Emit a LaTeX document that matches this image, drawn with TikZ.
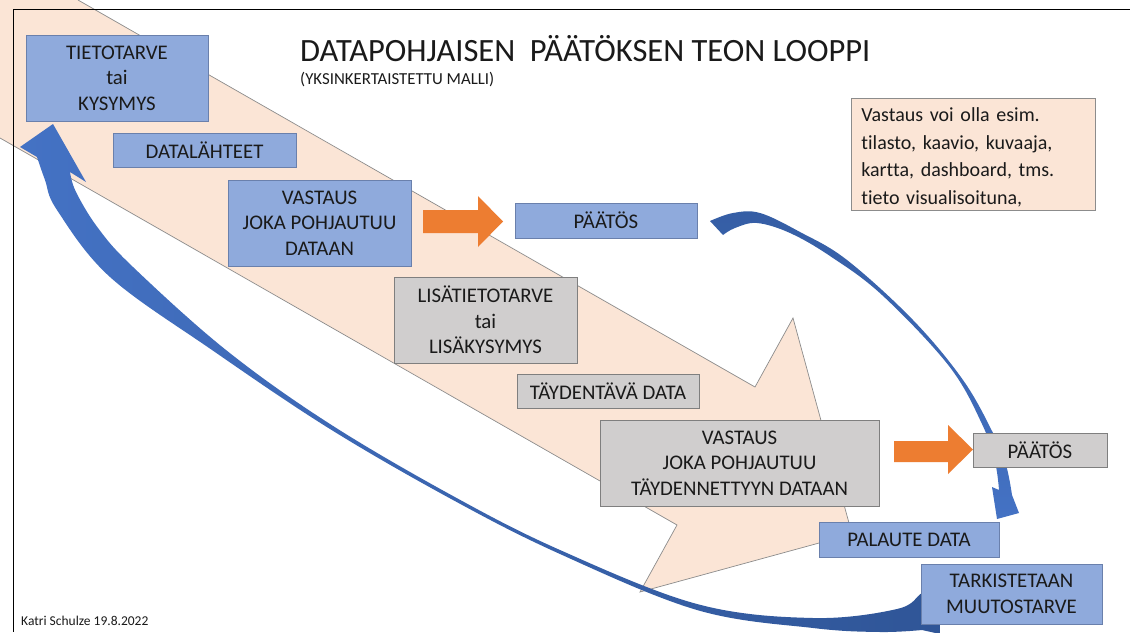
\documentclass[tikz,border=0pt]{standalone}
\usepackage{fontspec}
\setmainfont{Carlito}[Ligatures=NoCommon]
\definecolor{bandfill}{HTML}{FBE5D6}
\definecolor{bandline}{HTML}{8C8C8C}
\definecolor{boxblue}{HTML}{8FAADC}
\definecolor{boxblueline}{HTML}{6A80AC}
\definecolor{boxgray}{HTML}{D0CECE}
\definecolor{boxgrayline}{HTML}{7F7F7F}
\definecolor{arroworange}{HTML}{ED7D31}
\definecolor{arrowblue}{HTML}{4472C4}
\definecolor{arrowbluedark}{HTML}{2F5597}
\definecolor{textdark}{HTML}{1A1A1A}
\begin{document}
\begin{tikzpicture}[x=1pt,y=-1pt,
  box/.style={line width=0.8pt, inner sep=0pt, align=center,
              font=\fontsize{20.8}{25.5}\selectfont, text=textdark},
  bluebox/.style={box, fill=boxblue, draw=boxblueline},
  graybox/.style={box, fill=boxgray, draw=boxgrayline},
  infobox/.style={line width=0.8pt, inner sep=0pt, fill=bandfill, draw=bandline},
  infotext/.style={inner sep=0pt, align=left, text width=224pt, text=textdark,
                   font=\fontsize{20}{27.5}\selectfont},
  orangearrow/.style={fill=arroworange},
  loopblue/.style={top color=arrowbluedark!70!arrowblue, bottom color=arrowblue},
  loopback/.style={left color=arrowblue, right color=arrowbluedark},
]
\useasboundingbox (0,0) rectangle (1130,632);
\clip (0,0) rectangle (1130,632);
\fill[white] (0,0) rectangle (1130,632);

% wide diagonal process arrow in the background
\fill[bandfill] (0,0) -- (78,0) -- (755,387) -- (793,318) -- (852,534)
   -- (640,592) -- (677,525) -- (0,138) -- cycle;
\draw[bandline, line width=0.7pt] (78,0) -- (755,387) -- (793,318) -- (852,534)
   -- (640,592) -- (677,525) -- (0,138);

% slide frame
\draw[black, line width=1pt] (1130,9) -- (13,9) -- (13,632);

% title
\node[anchor=base west, inner sep=0pt, text=textdark,
      font=\fontsize{32.5}{38}\selectfont] (title) at (300,61)
      {DATAPOHJAISEN\ \ PÄÄTÖKSEN TEON LOOPPI};
\node[anchor=base west, inner sep=0pt, text=textdark,
      font=\fontsize{16.8}{19}\selectfont] (subtitle) at (300,84)
      {(YKSINKERTAISTETTU MALLI)};

% curved arrow: decision -> feedback
\shade[loopblue] (710,221)
  -- plot[smooth, tension=0.6] coordinates {(710,221) (733,213) (760,213)
       (800,232) (847,260) (913,320) (963,380) (993,433) (1006,465) (1012,495)}
  -- (1019,513) -- (997,519) -- (992,487)
  -- plot[smooth, tension=0.6] coordinates {(999,490) (995,462) (982,424)
       (949,366) (882,295) (830,256) (790,233) (757,223) (735,228) (723,235)}
  -- cycle;

% long return arrow: check for change -> information need
\shade[loopback] (37,157) -- (20,147) -- (53,124) -- (86,182) -- (70,172)
  -- plot[smooth, tension=0.6] coordinates {(70,172) (76,192) (98,228)
       (133,267) (226,350) (330,424) (453,496) (560,550) (697,604)
       (813,618) (897,609) (922,593) (940,585)}
  -- (940,634)
  -- plot[smooth, tension=0.6] coordinates {(922,630) (880,632) (813,628)
       (697,610) (560,554) (453,500) (330,429) (212,350) (110,277)
       (57,210) (45,180) (37,157)}
  -- cycle;

% boxes along the loop
\node[bluebox, minimum width=182pt, minimum height=86pt] (tieto) at (117,78)
  {TIETOTARVE\\tai\\KYSYMYS};
\node[bluebox, minimum width=183pt, minimum height=34pt] (lahteet) at (204.5,150)
  {DATALÄHTEET};
\node[bluebox, minimum width=183pt, minimum height=86pt] (vast1) at (319.5,223)
  {VASTAUS\\JOKA POHJAUTUU\\DATAAN};
\node[bluebox, minimum width=182pt, minimum height=35pt] (paat1) at (606,220.5)
  {PÄÄTÖS};
\node[graybox, minimum width=183pt, minimum height=86pt] (lisa) at (485.5,320)
  {LISÄTIETOTARVE\\tai\\LISÄKYSYMYS};
\node[graybox, minimum width=182pt, minimum height=34pt] (tayd) at (608,391)
  {TÄYDENTÄVÄ DATA};
\node[graybox, minimum width=279pt, minimum height=86pt] (vast2) at (739.5,463)
  {VASTAUS\\JOKA POHJAUTUU\\TÄYDENNETTYYN DATAAN};
\node[graybox, minimum width=134pt, minimum height=34pt] (paat2) at (1040,450)
  {PÄÄTÖS};
\node[bluebox, minimum width=180pt, minimum height=35pt] (palaute) at (909,539.5)
  {PALAUTE DATA};
\node[bluebox, minimum width=181pt, minimum height=60pt] (tark) at (1011.5,594)
  {TARKISTETAAN\\MUUTOSTARVE};

% note box
\node[infobox, minimum width=244pt, minimum height=112pt, anchor=north west]
  (info) at (851,98) {};
\node[infotext] (infotxt) at ([yshift=-3pt]info.center)
  {Vastaus voi olla esim.\\tilasto, kaavio, kuvaaja,\\kartta, dashboard, tms.\\tieto visualisoituna,};

% block arrows from answer to decision
\fill[orangearrow] (423,210) -- (478,210) -- (478,196) -- (503,221.5)
  -- (478,247) -- (478,233) -- (423,233) -- cycle;
\fill[orangearrow] (894,441) -- (948,441) -- (948,425) -- (973,449.5)
  -- (948,474) -- (948,462) -- (894,462) -- cycle;

% author and date
\node[anchor=base west, inner sep=0pt, text=textdark,
      font=\fontsize{13.5}{16}\selectfont] (author) at (21,625)
      {Katri Schulze 19.8.2022};
\end{tikzpicture}
\end{document}
